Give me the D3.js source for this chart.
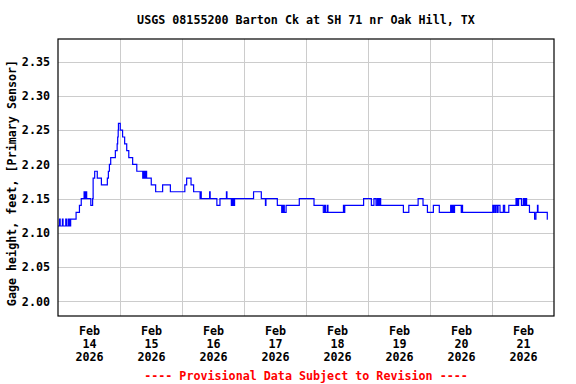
<!DOCTYPE html>
<html lang="en">
<head>
<meta charset="UTF-8">
<title>USGS 08155200</title>
<style>
    body { margin: 0; background: #ffffff; }
    svg { display: block; }
    text { font-family: "DejaVu Sans Mono", monospace; font-weight: bold; font-size: 11.7px; fill: #000; }
    .grid line { stroke: #cccccc; stroke-width: 1; shape-rendering: crispEdges; }
    .grid path { display: none; }
    .axis path, .axis line { display: none; }
</style>
</head>
<body>
<script src="https://d3js.org/d3.v7.min.js"></script>
<script>
    // gage height change points: hours after Feb 14 2026 00:00, value in feet
    var hrs = [0, 0.6, 0.85, 1.7, 1.95, 3.0, 3.25, 3.9, 4.15, 4.4, 4.65, 4.9, 7.0, 8.3, 9.0,
        10.1, 10.35, 10.6, 10.85, 11.0, 11.1, 12.7, 13.4, 13.6, 14.2, 15.2, 16.8, 19.1, 19.5, 19.9,
        20.4, 22.2, 22.9, 23.1, 23.3, 23.4, 24.1, 25.0, 25.8, 26.6, 27.4, 28.9, 30.5,
        32.8, 33.05, 33.3, 33.55, 33.8, 34.05, 34.3, 36.1, 37.8, 40.5, 43.5, 49.1, 49.8, 51.5, 52.5,
        55.0, 55.2, 55.45, 58.7, 58.9, 61.5, 62.7, 65.2, 65.4, 67.1, 67.35, 67.6, 67.85, 68.1, 68.35,
        75.7, 78.7, 80.3, 80.5, 84.9, 86.6, 86.85, 87.1, 87.35, 87.6, 88.3, 93.4, 99.1,
        102.7, 103.2, 103.5, 104.2, 104.5, 110.5, 110.75, 111.0, 118.3, 121.3, 122.3, 123.1,
        123.6, 123.85, 124.1, 124.35, 124.6, 124.9, 133.7, 135.8, 139.4, 141.3, 143.0, 145.3, 147.6,
        152.0, 152.3, 152.5, 152.8, 153.0, 153.3, 153.5, 156.1, 156.35, 156.6,
        168.3, 168.55, 168.8, 169.3, 169.55, 170.1, 170.35, 171.1, 172.4, 172.9, 174.5,
        177.3, 177.55, 177.8, 178.05, 178.3, 179.4, 180.1, 180.35, 180.6, 180.85, 181.1, 181.4,
        182.5, 184.5, 185.0, 185.6, 185.8, 189.4, 189.6];
    var ft = [2.11, 2.12, 2.11, 2.12, 2.11, 2.12, 2.11, 2.12, 2.11, 2.12, 2.11, 2.12, 2.13, 2.14, 2.15,
        2.16, 2.15, 2.16, 2.15, 2.16, 2.15, 2.14, 2.15, 2.18, 2.19, 2.18, 2.17, 2.18, 2.19, 2.20,
        2.21, 2.22, 2.23, 2.24, 2.25, 2.26, 2.25, 2.24, 2.23, 2.22, 2.21, 2.20, 2.19,
        2.18, 2.19, 2.18, 2.19, 2.18, 2.19, 2.18, 2.17, 2.16, 2.17, 2.16, 2.17, 2.18, 2.17, 2.16,
        2.15, 2.16, 2.15, 2.16, 2.15, 2.14, 2.15, 2.16, 2.15, 2.14, 2.15, 2.14, 2.15, 2.14, 2.15,
        2.16, 2.15, 2.14, 2.15, 2.14, 2.13, 2.14, 2.13, 2.14, 2.13, 2.14, 2.15, 2.14,
        2.13, 2.14, 2.13, 2.14, 2.13, 2.14, 2.13, 2.14, 2.15, 2.14, 2.15, 2.14,
        2.15, 2.14, 2.15, 2.14, 2.15, 2.14, 2.13, 2.14, 2.15, 2.14, 2.13, 2.14, 2.13,
        2.14, 2.13, 2.14, 2.13, 2.14, 2.13, 2.14, 2.13, 2.14, 2.13,
        2.14, 2.13, 2.14, 2.13, 2.14, 2.13, 2.14, 2.13, 2.14, 2.13, 2.14,
        2.15, 2.14, 2.15, 2.14, 2.15, 2.14, 2.15, 2.14, 2.15, 2.14, 2.15, 2.14,
        2.13, 2.12, 2.13, 2.14, 2.13, 2.12, 2.12];

    var yTicks = [2.00, 2.05, 2.10, 2.15, 2.20, 2.25, 2.30, 2.35];
    var dayLabels = ["14", "15", "16", "17", "18", "19", "20", "21"];
    var title = "USGS 08155200 Barton Ck at SH 71 nr Oak Hill, TX";
    var yLabel = "Gage height, feet, [Primary Sensor]";
    var footer = "---- Provisional Data Subject to Revision ----";

    var W = 576, H = 384;
    var plot = {left: 58, right: 554, top: 39, bottom: 316};

    var t0 = Date.UTC(2026, 1, 14);
    function toDate(h) { return new Date(t0 + h * 3600e3); }

    var x = d3.scaleUtc()
        .domain([toDate(0), toDate(192)])
        .range([plot.left, plot.right]);

    var y = d3.scaleLinear()
        .domain([1.9785, 2.3832])
        .range([plot.bottom, plot.top]);

    var svg = d3.select("body").append("svg")
        .attr("width", W)
        .attr("height", H);

    // grid
    var midnights = d3.range(1, 8).map(function(d) { return toDate(d * 24); });
    svg.append("g")
        .attr("class", "grid")
        .attr("transform", "translate(0," + plot.bottom + ")")
        .call(d3.axisBottom(x).tickValues(midnights).tickSize(-(plot.bottom - plot.top)).tickFormat(""));
    svg.append("g")
        .attr("class", "grid")
        .attr("transform", "translate(" + plot.left + ",0)")
        .call(d3.axisLeft(y).tickValues(yTicks).tickSize(-(plot.right - plot.left)).tickFormat(""));

    // data line
    var pts = hrs.map(function(h, i) { return [toDate(h), ft[i]]; });
    var line = d3.line()
        .x(function(d) { return x(d[0]); })
        .y(function(d) { return y(d[1]); })
        .curve(d3.curveStepAfter);

    svg.append("path")
        .datum(pts)
        .attr("fill", "none")
        .attr("stroke", "#0000ff")
        .attr("stroke-width", 1.2)
        .attr("d", line);

    // border
    svg.append("rect")
        .attr("x", plot.left)
        .attr("y", plot.top)
        .attr("width", plot.right - plot.left)
        .attr("height", plot.bottom - plot.top)
        .attr("fill", "none")
        .attr("stroke", "#000")
        .attr("stroke-width", 1.2);

    // y axis labels
    var yAxis = svg.append("g")
        .attr("class", "axis")
        .attr("transform", "translate(" + plot.left + ",0)")
        .call(d3.axisLeft(y).tickValues(yTicks).tickSize(0).tickPadding(8).tickFormat(d3.format(".2f")));
    yAxis.selectAll("text").attr("font-size", null).attr("font-family", null);

    // x axis labels (noon of each day)
    var noons = d3.range(8).map(function(d) { return toDate(d * 24 + 12); });
    var xAxis = svg.append("g")
        .attr("class", "axis")
        .attr("transform", "translate(0," + plot.bottom + ")")
        .call(d3.axisBottom(x).tickValues(noons).tickSize(0).tickFormat(""));
    xAxis.selectAll(".tick").each(function(d, i) {
        var t = d3.select(this).append("text")
            .attr("text-anchor", "middle")
            .attr("font-size", null)
            .attr("font-family", null);
        t.append("tspan").attr("x", 0).attr("y", 19).text("Feb");
        t.append("tspan").attr("x", 0).attr("y", 32).text(dayLabels[i]);
        t.append("tspan").attr("x", 0).attr("y", 45).text("2026");
    });

    svg.append("text")
        .attr("x", (plot.left + plot.right) / 2)
        .attr("y", 24)
        .attr("text-anchor", "middle")
        .text(title);

    svg.append("text")
        .attr("transform", "translate(16,183) rotate(-90)")
        .attr("text-anchor", "middle")
        .text(yLabel);

    svg.append("text")
        .attr("x", (plot.left + plot.right) / 2)
        .attr("y", 380)
        .attr("text-anchor", "middle")
        .style("fill", "#ff0000")
        .text(footer);
</script>
</body>
</html>
